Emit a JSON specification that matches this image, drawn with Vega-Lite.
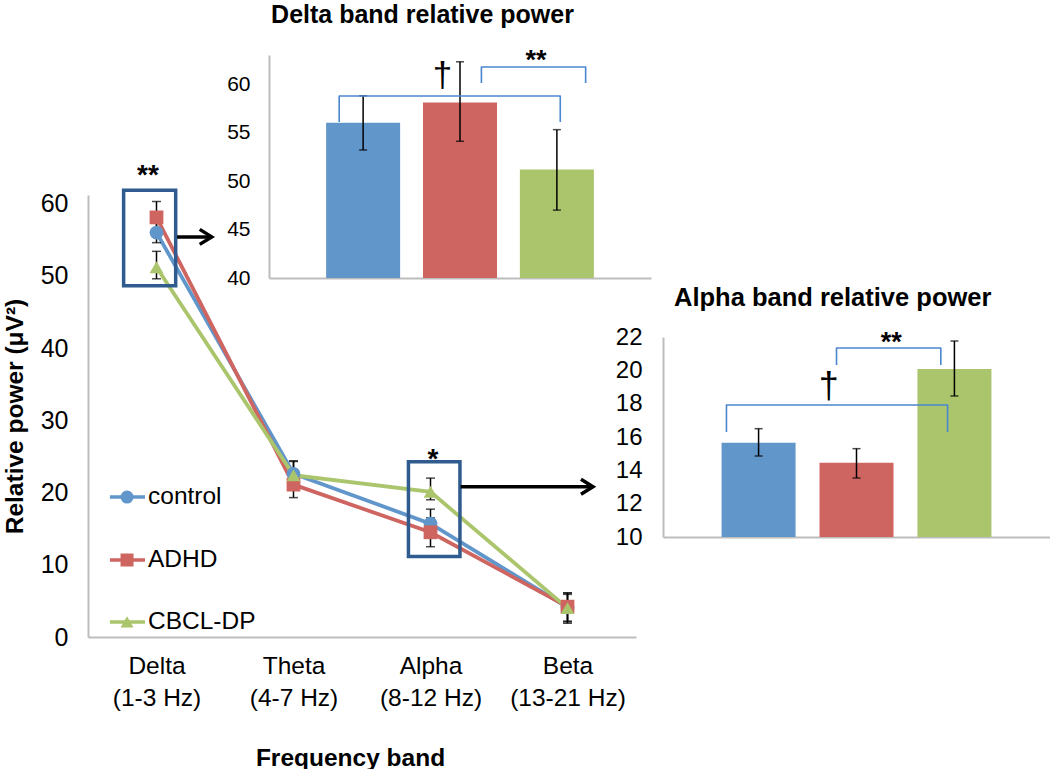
{
  "$schema": "https://vega.github.io/schema/vega-lite/v6.json",
  "autosize": "none",
  "padding": {"left": 88, "top": 195, "right": 414, "bottom": 132},
  "width": 548,
  "height": 442,
  "background": "white",
  "config": {
    "font": "Liberation Sans",
    "view": {"stroke": null},
    "axis": {"grid": false, "ticks": false, "domainColor": "#BDBDBD", "domainWidth": 2, "labelColor": "#000000", "titleColor": "#000000", "labelFont": "Liberation Sans", "titleFont": "Liberation Sans"}
  },
  "datasets": {
    "main": [
      {"band": "Delta (1-3 Hz)", "group": "control", "value": 56.0, "lo": 54.6, "hi": 57.5},
      {"band": "Theta (4-7 Hz)", "group": "control", "value": 22.6, "lo": 20.6, "hi": 24.4},
      {"band": "Alpha (8-12 Hz)", "group": "control", "value": 15.7, "lo": 13.9, "hi": 17.7},
      {"band": "Beta (13-21 Hz)", "group": "control", "value": 4.1, "lo": 2.1, "hi": 6.1},
      {"band": "Delta (1-3 Hz)", "group": "ADHD", "value": 58.1, "lo": 55.9, "hi": 60.3},
      {"band": "Theta (4-7 Hz)", "group": "ADHD", "value": 21.1, "lo": 19.3, "hi": 22.9},
      {"band": "Alpha (8-12 Hz)", "group": "ADHD", "value": 14.5, "lo": 12.5, "hi": 16.5},
      {"band": "Beta (13-21 Hz)", "group": "ADHD", "value": 4.2, "lo": 2.2, "hi": 6.1},
      {"band": "Delta (1-3 Hz)", "group": "CBCL-DP", "value": 51.2, "lo": 49.6, "hi": 53.4},
      {"band": "Theta (4-7 Hz)", "group": "CBCL-DP", "value": 22.4, "lo": 20.6, "hi": 24.3},
      {"band": "Alpha (8-12 Hz)", "group": "CBCL-DP", "value": 20.1, "lo": 19.0, "hi": 22.0},
      {"band": "Beta (13-21 Hz)", "group": "CBCL-DP", "value": 4.0, "lo": 1.9, "hi": 5.9}
    ],
    "legendRows": [
      {"group": "control", "slot": 19.38},
      {"group": "ADHD", "slot": 10.66},
      {"group": "CBCL-DP", "slot": 2.08}
    ],
    "delta": [
      {"group": "control", "idx": 1, "value": 56.0, "lo": 53.2, "hi": 58.8},
      {"group": "ADHD", "idx": 2, "value": 58.1, "lo": 54.1, "hi": 62.3},
      {"group": "CBCL-DP", "idx": 3, "value": 51.2, "lo": 47.0, "hi": 55.3}
    ],
    "alpha": [
      {"group": "control", "idx": 1, "value": 15.65, "lo": 14.86, "hi": 16.5},
      {"group": "ADHD", "idx": 2, "value": 14.45, "lo": 13.54, "hi": 15.3},
      {"group": "CBCL-DP", "idx": 3, "value": 20.08, "lo": 18.46, "hi": 21.76}
    ],
    "deltaBrackets": [
      {"b": "big", "o": 1, "x": 0.753, "y": 56.1},
      {"b": "big", "o": 2, "x": 0.753, "y": 58.77},
      {"b": "big", "o": 3, "x": 3.035, "y": 58.77},
      {"b": "big", "o": 4, "x": 3.035, "y": 56.1},
      {"b": "small", "o": 1, "x": 2.221, "y": 60.1},
      {"b": "small", "o": 2, "x": 2.221, "y": 61.76},
      {"b": "small", "o": 3, "x": 3.297, "y": 61.76},
      {"b": "small", "o": 4, "x": 3.297, "y": 60.1}
    ],
    "alphaBrackets": [
      {"b": "big", "o": 1, "x": 0.672, "y": 16.3},
      {"b": "big", "o": 2, "x": 0.672, "y": 17.92},
      {"b": "big", "o": 3, "x": 2.93, "y": 17.92},
      {"b": "big", "o": 4, "x": 2.93, "y": 16.3},
      {"b": "small", "o": 1, "x": 1.796, "y": 20.32},
      {"b": "small", "o": 2, "x": 1.796, "y": 21.34},
      {"b": "small", "o": 3, "x": 2.861, "y": 21.34},
      {"b": "small", "o": 4, "x": 2.861, "y": 20.32}
    ]
  },
  "layer": [
    {
      "layer": [
        {
          "data": {"name": "main"},
          "encoding": {
            "x": {
              "field": "band", "type": "ordinal",
              "sort": ["Delta (1-3 Hz)", "Theta (4-7 Hz)", "Alpha (8-12 Hz)", "Beta (13-21 Hz)"],
              "scale": {"type": "point", "padding": 0.5},
              "axis": {
                "title": "Frequency band", "titleFontSize": 24.5, "titleFontWeight": "bold",
                "titleX": 262, "titleY": 128, "titleBaseline": "alphabetic", "titleAlign": "center",
                "labelFontSize": 24.5, "labelPadding": 17, "labelLineHeight": 32, "labelAngle": 0,
                "labelExpr": "[slice(datum.label, 0, indexof(datum.label, ' (')), slice(datum.label, indexof(datum.label, ' (') + 1)]"
              }
            }
          },
          "layer": [
            {
              "mark": {"type": "line", "strokeWidth": 3.8},
              "encoding": {
                "y": {
                  "field": "value", "type": "quantitative",
                  "scale": {"domain": [0, 61.2], "nice": false},
                  "axis": {
                    "values": [0, 10, 20, 30, 40, 50, 60], "labelFontSize": 25, "labelPadding": 20,
                    "title": "Relative power (μV²)", "titleFontSize": 24.5, "titleFontWeight": "bold",
                    "titleX": -66, "titleY": 221, "titleAngle": 270, "titleBaseline": "alphabetic", "titleAlign": "center"
                  }
                },
                "color": {"field": "group", "type": "nominal", "scale": {"domain": ["control", "ADHD", "CBCL-DP"], "range": ["#6196CB", "#CE6560", "#AAC56C"]}, "legend": null}
              }
            },
            {
              "mark": {"type": "rule", "color": "#000000", "strokeWidth": 1.5},
              "encoding": {
                "y": {"field": "lo", "type": "quantitative", "scale": {"domain": [0, 61.2], "nice": false}},
                "y2": {"field": "hi"},
                "detail": {"field": "group"}
              }
            },
            {
              "mark": {"type": "tick", "color": "#000000", "thickness": 1.5, "size": 9, "orient": "horizontal"},
              "encoding": {"y": {"field": "lo", "type": "quantitative", "scale": {"domain": [0, 61.2], "nice": false}}}
            },
            {
              "mark": {"type": "tick", "color": "#000000", "thickness": 1.5, "size": 9, "orient": "horizontal"},
              "encoding": {"y": {"field": "hi", "type": "quantitative", "scale": {"domain": [0, 61.2], "nice": false}}}
            },
            {
              "mark": {"type": "point", "filled": true, "opacity": 1, "size": 190},
              "encoding": {
                "y": {"field": "value", "type": "quantitative", "scale": {"domain": [0, 61.2], "nice": false}},
                "color": {"field": "group", "type": "nominal", "scale": {"domain": ["control", "ADHD", "CBCL-DP"], "range": ["#6196CB", "#CE6560", "#AAC56C"]}, "legend": null},
                "shape": {"field": "group", "type": "nominal", "scale": {"domain": ["control", "ADHD", "CBCL-DP"], "range": ["circle", "square", "triangle-up"]}, "legend": null}
              }
            }
          ]
        },
        {
          "layer": [
            {
              "data": {"values": [{"x0": 0.26, "x1": 0.64, "y0": 48.65, "y1": 61.87}, {"x0": 2.339, "x1": 2.715, "y0": 11.14, "y1": 24.25}]},
              "mark": {"type": "rect", "filled": false, "color": "#2F5B8E", "strokeWidth": 3.5},
              "encoding": {
                "x": {"field": "x0", "type": "quantitative", "scale": {"domain": [0, 4], "nice": false}, "axis": null},
                "x2": {"field": "x1"},
                "y": {"field": "y0", "type": "quantitative", "scale": {"domain": [0, 61.2], "nice": false}},
                "y2": {"field": "y1"}
              }
            },
            {
              "data": {"values": [{"x0": 0.65, "x1": 0.9, "y": 55.4}, {"x0": 2.72, "x1": 3.68, "y": 20.8}]},
              "mark": {"type": "rule", "color": "#000000", "strokeWidth": 3.5},
              "encoding": {
                "x": {"field": "x0", "type": "quantitative", "scale": {"domain": [0, 4], "nice": false}, "axis": null},
                "x2": {"field": "x1"},
                "y": {"field": "y", "type": "quantitative", "scale": {"domain": [0, 61.2], "nice": false}}
              }
            },
            {
              "data": {"values": [{"x1": 0.903, "y": 55.4}, {"x1": 3.686, "y": 20.8}]},
              "mark": {"type": "point", "shape": "M-1.6,-1L0,0L-1.6,1", "size": 225, "filled": false, "color": "#000000", "strokeWidth": 3.5, "opacity": 1},
              "encoding": {
                "x": {"field": "x1", "type": "quantitative", "scale": {"domain": [0, 4], "nice": false}, "axis": null},
                "y": {"field": "y", "type": "quantitative", "scale": {"domain": [0, 61.2], "nice": false}}
              }
            },
            {
              "data": {"values": [{"x": 0.438, "y": 62.7, "label": "**"}, {"x": 2.518, "y": 23.4, "label": "*"}]},
              "mark": {"type": "text", "fontSize": 28, "fontWeight": "bold", "baseline": "alphabetic", "align": "center", "color": "#000000"},
              "encoding": {
                "x": {"field": "x", "type": "quantitative", "scale": {"domain": [0, 4], "nice": false}, "axis": null},
                "y": {"field": "y", "type": "quantitative", "scale": {"domain": [0, 61.2], "nice": false}},
                "text": {"field": "label"}
              }
            },
            {
              "data": {"name": "legendRows"},
              "mark": {"type": "rule", "strokeWidth": 3.5},
              "encoding": {
                "x": {"datum": 0.16, "type": "quantitative", "scale": {"domain": [0, 4], "nice": false}, "axis": null},
                "x2": {"datum": 0.416},
                "y": {"field": "slot", "type": "quantitative", "scale": {"domain": [0, 61.2], "nice": false}},
                "color": {"field": "group", "type": "nominal", "scale": {"domain": ["control", "ADHD", "CBCL-DP"], "range": ["#6196CB", "#CE6560", "#AAC56C"]}, "legend": null}
              }
            },
            {
              "data": {"name": "legendRows"},
              "mark": {"type": "point", "filled": true, "opacity": 1, "size": 169},
              "encoding": {
                "x": {"datum": 0.285, "type": "quantitative", "scale": {"domain": [0, 4], "nice": false}, "axis": null},
                "y": {"field": "slot", "type": "quantitative", "scale": {"domain": [0, 61.2], "nice": false}},
                "color": {"field": "group", "type": "nominal", "scale": {"domain": ["control", "ADHD", "CBCL-DP"], "range": ["#6196CB", "#CE6560", "#AAC56C"]}, "legend": null},
                "shape": {"field": "group", "type": "nominal", "scale": {"domain": ["control", "ADHD", "CBCL-DP"], "range": ["circle", "square", "triangle-up"]}, "legend": null}
              }
            },
            {
              "data": {"name": "legendRows"},
              "mark": {"type": "text", "fontSize": 24.5, "align": "left", "baseline": "middle", "color": "#000000"},
              "encoding": {
                "x": {"datum": 0.438, "type": "quantitative", "scale": {"domain": [0, 4], "nice": false}, "axis": null},
                "y": {"field": "slot", "type": "quantitative", "scale": {"domain": [0, 61.2], "nice": false}},
                "text": {"field": "group"}
              }
            }
          ]
        }
      ],
      "resolve": {"scale": {"x": "independent"}}
    },
    {
      "layer": [
        {
          "data": {"name": "delta"},
          "mark": {"type": "bar", "width": 74},
          "encoding": {
            "x": {"field": "idx", "type": "quantitative", "scale": {"domain": [0.08, 3.92], "range": [181, 563], "nice": false, "zero": false},
                  "axis": {"orient": "bottom", "offset": -359, "labels": false, "title": null}},
            "y": {"field": "value", "type": "quantitative", "scale": {"domain": [40, 63], "range": [83, -140], "nice": false, "zero": false},
                  "axis": {"orient": "left", "offset": -181, "values": [40, 45, 50, 55, 60], "labelFontSize": 21, "labelPadding": 19, "title": null}},
            "y2": {"datum": 40},
            "color": {"field": "group", "type": "nominal", "scale": {"domain": ["control", "ADHD", "CBCL-DP"], "range": ["#6196CB", "#CE6560", "#AAC56C"]}, "legend": null}
          }
        },
        {
          "data": {"name": "delta"},
          "mark": {"type": "rule", "color": "#000000", "strokeWidth": 1.5},
          "encoding": {
            "x": {"field": "idx", "type": "quantitative", "scale": {"domain": [0.08, 3.92], "range": [181, 563], "nice": false, "zero": false}},
            "y": {"field": "lo", "type": "quantitative", "scale": {"domain": [40, 63], "range": [83, -140], "nice": false, "zero": false}},
            "y2": {"field": "hi"}
          }
        },
        {
          "data": {"name": "delta"},
          "mark": {"type": "tick", "color": "#000000", "thickness": 1.5, "size": 8, "orient": "horizontal"},
          "encoding": {
            "x": {"field": "idx", "type": "quantitative", "scale": {"domain": [0.08, 3.92], "range": [181, 563], "nice": false, "zero": false}},
            "y": {"field": "lo", "type": "quantitative", "scale": {"domain": [40, 63], "range": [83, -140], "nice": false, "zero": false}}
          }
        },
        {
          "data": {"name": "delta"},
          "mark": {"type": "tick", "color": "#000000", "thickness": 1.5, "size": 8, "orient": "horizontal"},
          "encoding": {
            "x": {"field": "idx", "type": "quantitative", "scale": {"domain": [0.08, 3.92], "range": [181, 563], "nice": false, "zero": false}},
            "y": {"field": "hi", "type": "quantitative", "scale": {"domain": [40, 63], "range": [83, -140], "nice": false, "zero": false}}
          }
        },
        {
          "data": {"name": "deltaBrackets"},
          "mark": {"type": "line", "color": "#4A86CF", "strokeWidth": 1.6, "strokeJoin": "round"},
          "encoding": {
            "x": {"field": "x", "type": "quantitative", "scale": {"domain": [0.08, 3.92], "range": [181, 563], "nice": false, "zero": false}},
            "y": {"field": "y", "type": "quantitative", "scale": {"domain": [40, 63], "range": [83, -140], "nice": false, "zero": false}},
            "detail": {"field": "b"},
            "order": {"field": "o"}
          }
        },
        {
          "data": {"values": [{"x": 1.613, "y": 66.35, "label": "Delta band relative power"}]},
          "mark": {"type": "text", "fontSize": 25, "fontWeight": "bold", "baseline": "alphabetic", "align": "center", "color": "#000000"},
          "encoding": {
            "x": {"field": "x", "type": "quantitative", "scale": {"domain": [0.08, 3.92], "range": [181, 563], "nice": false, "zero": false}},
            "y": {"field": "y", "type": "quantitative", "scale": {"domain": [40, 63], "range": [83, -140], "nice": false, "zero": false}},
            "text": {"field": "label"}
          }
        },
        {
          "data": {"values": [{"x": 2.784, "y": 61.56, "label": "**"}]},
          "mark": {"type": "text", "fontSize": 27, "fontWeight": "bold", "baseline": "alphabetic", "align": "center", "color": "#000000"},
          "encoding": {
            "x": {"field": "x", "type": "quantitative", "scale": {"domain": [0.08, 3.92], "range": [181, 563], "nice": false, "zero": false}},
            "y": {"field": "y", "type": "quantitative", "scale": {"domain": [40, 63], "range": [83, -140], "nice": false, "zero": false}},
            "text": {"field": "label"}
          }
        },
        {
          "data": {"values": [{"x": 1.819, "y": 59.7, "label": "†"}]},
          "mark": {"type": "text", "fontSize": 35, "baseline": "alphabetic", "align": "center", "color": "#000000"},
          "encoding": {
            "x": {"field": "x", "type": "quantitative", "scale": {"domain": [0.08, 3.92], "range": [181, 563], "nice": false, "zero": false}},
            "y": {"field": "y", "type": "quantitative", "scale": {"domain": [40, 63], "range": [83, -140], "nice": false, "zero": false}},
            "text": {"field": "label"}
          }
        }
      ]
    },
    {
      "layer": [
        {
          "data": {"name": "alpha"},
          "mark": {"type": "bar", "width": 74},
          "encoding": {
            "x": {"field": "idx", "type": "quantitative", "scale": {"domain": [0.075, 3.925], "range": [575, 962], "nice": false, "zero": false},
                  "axis": {"orient": "bottom", "offset": -100, "labels": false, "title": null}},
            "y": {"field": "value", "type": "quantitative", "scale": {"domain": [10, 22], "range": [342, 142], "nice": false, "zero": false},
                  "axis": {"orient": "left", "offset": -575, "values": [10, 12, 14, 16, 18, 20, 22], "labelFontSize": 24, "labelPadding": 21, "title": null}},
            "y2": {"datum": 10},
            "color": {"field": "group", "type": "nominal", "scale": {"domain": ["control", "ADHD", "CBCL-DP"], "range": ["#6196CB", "#CE6560", "#AAC56C"]}, "legend": null}
          }
        },
        {
          "data": {"name": "alpha"},
          "mark": {"type": "rule", "color": "#000000", "strokeWidth": 1.5},
          "encoding": {
            "x": {"field": "idx", "type": "quantitative", "scale": {"domain": [0.075, 3.925], "range": [575, 962], "nice": false, "zero": false}},
            "y": {"field": "lo", "type": "quantitative", "scale": {"domain": [10, 22], "range": [342, 142], "nice": false, "zero": false}},
            "y2": {"field": "hi"}
          }
        },
        {
          "data": {"name": "alpha"},
          "mark": {"type": "tick", "color": "#000000", "thickness": 1.5, "size": 8, "orient": "horizontal"},
          "encoding": {
            "x": {"field": "idx", "type": "quantitative", "scale": {"domain": [0.075, 3.925], "range": [575, 962], "nice": false, "zero": false}},
            "y": {"field": "lo", "type": "quantitative", "scale": {"domain": [10, 22], "range": [342, 142], "nice": false, "zero": false}}
          }
        },
        {
          "data": {"name": "alpha"},
          "mark": {"type": "tick", "color": "#000000", "thickness": 1.5, "size": 8, "orient": "horizontal"},
          "encoding": {
            "x": {"field": "idx", "type": "quantitative", "scale": {"domain": [0.075, 3.925], "range": [575, 962], "nice": false, "zero": false}},
            "y": {"field": "hi", "type": "quantitative", "scale": {"domain": [10, 22], "range": [342, 142], "nice": false, "zero": false}}
          }
        },
        {
          "data": {"name": "alphaBrackets"},
          "mark": {"type": "line", "color": "#4A86CF", "strokeWidth": 1.6, "strokeJoin": "round"},
          "encoding": {
            "x": {"field": "x", "type": "quantitative", "scale": {"domain": [0.075, 3.925], "range": [575, 962], "nice": false, "zero": false}},
            "y": {"field": "y", "type": "quantitative", "scale": {"domain": [10, 22], "range": [342, 142], "nice": false, "zero": false}},
            "detail": {"field": "b"},
            "order": {"field": "o"}
          }
        },
        {
          "data": {"values": [{"x": 1.757, "y": 23.86, "label": "Alpha band relative power"}]},
          "mark": {"type": "text", "fontSize": 25.5, "fontWeight": "bold", "baseline": "alphabetic", "align": "center", "color": "#000000"},
          "encoding": {
            "x": {"field": "x", "type": "quantitative", "scale": {"domain": [0.075, 3.925], "range": [575, 962], "nice": false, "zero": false}},
            "y": {"field": "y", "type": "quantitative", "scale": {"domain": [10, 22], "range": [342, 142], "nice": false, "zero": false}},
            "text": {"field": "label"}
          }
        },
        {
          "data": {"values": [{"x": 2.354, "y": 21.16, "label": "**"}]},
          "mark": {"type": "text", "fontSize": 27, "fontWeight": "bold", "baseline": "alphabetic", "align": "center", "color": "#000000"},
          "encoding": {
            "x": {"field": "x", "type": "quantitative", "scale": {"domain": [0.075, 3.925], "range": [575, 962], "nice": false, "zero": false}},
            "y": {"field": "y", "type": "quantitative", "scale": {"domain": [10, 22], "range": [342, 142], "nice": false, "zero": false}},
            "text": {"field": "label"}
          }
        },
        {
          "data": {"values": [{"x": 1.717, "y": 18.34, "label": "†"}]},
          "mark": {"type": "text", "fontSize": 36, "baseline": "alphabetic", "align": "center", "color": "#000000"},
          "encoding": {
            "x": {"field": "x", "type": "quantitative", "scale": {"domain": [0.075, 3.925], "range": [575, 962], "nice": false, "zero": false}},
            "y": {"field": "y", "type": "quantitative", "scale": {"domain": [10, 22], "range": [342, 142], "nice": false, "zero": false}},
            "text": {"field": "label"}
          }
        }
      ]
    }
  ],
  "resolve": {"scale": {"x": "independent", "y": "independent"}}
}
